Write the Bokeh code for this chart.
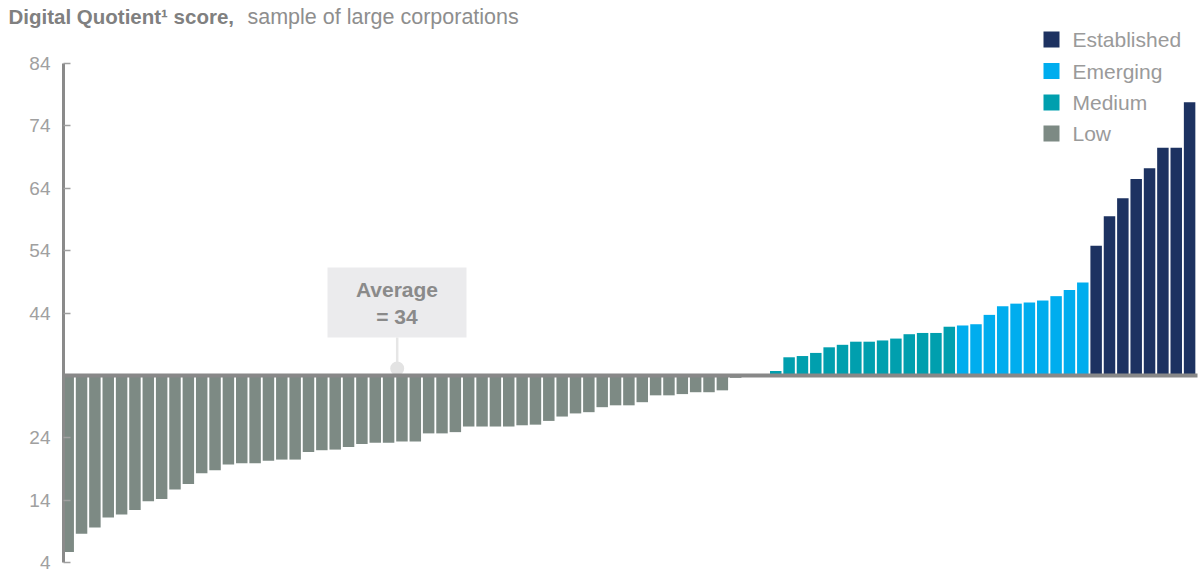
from bokeh.plotting import figure
from bokeh.models import Range1d, FixedTicker, Label
from bokeh.embed import file_html
from bokeh.resources import INLINE

# ---- data (Digital Quotient scores, sorted) ----
low_scores = [5.7, 8.6, 9.6, 11.2, 11.7, 12.4, 13.8, 14.2, 15.7, 16.6,
              18.3, 18.8, 19.7, 19.9, 19.9, 20.3, 20.5, 20.5, 21.7, 22.0,
              22.1, 22.5, 23.0, 23.2, 23.2, 23.4, 23.4, 24.7, 24.7, 24.9,
              25.8, 25.8, 25.8, 25.8, 26.0, 26.1, 26.7, 27.4, 27.9, 28.1,
              28.9, 29.2, 29.2, 29.7, 30.8, 30.8, 31.0, 31.3, 31.3, 31.6,
              33.6, 34.0, 34.0]
medium_scores = [34.7, 36.9, 37.1, 37.6, 38.5, 38.9, 39.4, 39.4, 39.6, 39.9,
                 40.6, 40.8, 40.8, 41.8]
emerging_scores = [42.0, 42.2, 43.7, 45.1, 45.5, 45.7, 46.0, 46.7, 47.7, 48.9]
established_scores = [54.8, 59.5, 62.4, 65.5, 67.2, 70.5, 70.5, 77.8]

tiers = ["Established", "Emerging", "Medium", "Low"]
tier_colors = {"Established": "#1d3261", "Emerging": "#00adee",
               "Medium": "#009fae", "Low": "#7d8a84"}
average = 34
y_ticks = [4, 14, 24, 44, 54, 64, 74, 84]

scores = low_scores + medium_scores + emerging_scores + established_scores
tier_of = (["Low"] * len(low_scores) + ["Medium"] * len(medium_scores)
           + ["Emerging"] * len(emerging_scores)
           + ["Established"] * len(established_scores))
xs = list(range(len(scores)))
colors = [tier_colors[t] for t in tier_of]

# ---- layout helpers (canvas pixel -> data) ----
def xd(px):
    return (px - 67.7) / 13.35

def yd(py):
    return 84 - (py - 63) / 6.2375

W, H = 1203, 575
p = figure(width=W, height=H, output_backend="svg", toolbar_location=None,
           x_range=Range1d(xd(0), xd(W)), y_range=Range1d(yd(H), yd(0)),
           min_border_left=0, min_border_right=0, min_border_top=0,
           min_border_bottom=0)
p.outline_line_color = None
p.grid.visible = False
p.xaxis.visible = False
p.background_fill_color = "white"
p.border_fill_color = "white"

FONT = "Liberation Sans"
GRAY = "#8a8a8a"
DY = 8  # label baseline correction

# bars
p.vbar(x=xs, width=0.86, bottom=average, top=scores, fill_color=colors,
       line_color=None)

# average marker
p.rect(x=[xd(396.5)], y=[yd(302)], width=139 / 13.35, height=70 / 6.2375,
       fill_color="#ebebed", line_color=None)
p.segment(x0=[xd(396.7)], y0=[yd(337)], x1=[xd(396.7)], y1=[yd(366)],
          line_color="#e6e6e6", line_width=2.5)
p.scatter(x=[xd(396.7)], y=[yd(368)], size=14, marker="circle",
          fill_color="#e3e3e3", line_color=None)
p.add_layout(Label(x=xd(396.5), y=yd(297 - DY), text="Average",
                   text_align="center", text_baseline="alphabetic",
                   text_font=FONT, text_font_style="bold",
                   text_font_size="21px", text_color=GRAY))
p.add_layout(Label(x=xd(396.5), y=yd(323.5 - DY), text="= " + str(average),
                   text_align="center", text_baseline="alphabetic",
                   text_font=FONT, text_font_style="bold",
                   text_font_size="21px", text_color=GRAY))

# baseline at average, from the axis to the right edge
p.segment(x0=[xd(62)], y0=[average], x1=[xd(1197)], y1=[average],
          line_color="#888888", line_width=4)

# y axis, drawn at a fixed location inside the frame
ax = p.yaxis[0]
ax.fixed_location = xd(63)
ax.ticker = FixedTicker(ticks=y_ticks)
ax.bounds = (4, 84)
ax.axis_line_color = GRAY
ax.axis_line_width = 3
ax.major_tick_in = 7
ax.major_tick_out = 0
ax.major_tick_line_color = "#a0a0a0"
ax.major_tick_line_width = 1.5
ax.minor_tick_line_color = None
ax.major_label_text_font = FONT
ax.major_label_text_font_size = "19px"
ax.major_label_text_color = "#a0a0a0"
ax.major_label_standoff = 13

# title
p.add_layout(Label(x=xd(8), y=yd(24 - DY), text="Digital Quotient\u00b9 score,",
                   text_align="left", text_baseline="alphabetic",
                   text_font=FONT, text_font_style="bold",
                   text_font_size="20.5px", text_color="#808080"))
p.add_layout(Label(x=xd(247), y=yd(24 - DY), text="sample of large corporations",
                   text_align="left", text_baseline="alphabetic",
                   text_font=FONT, text_font_size="21.5px",
                   text_color="#8e8e8e"))

# legend
row_y = [39, 70.5, 102, 133]
for t, ry in zip(tiers, row_y):
    p.scatter(x=[xd(1051)], y=[yd(ry)], size=16, marker="square",
              fill_color=tier_colors[t], line_color=None)
    p.add_layout(Label(x=xd(1072), y=yd(ry + 8 - DY), text=t,
                       text_align="left", text_baseline="alphabetic",
                       text_font=FONT, text_font_size="21px",
                       text_color="#9a9a9a"))

open("out.html", "w").write(file_html(p, INLINE))
